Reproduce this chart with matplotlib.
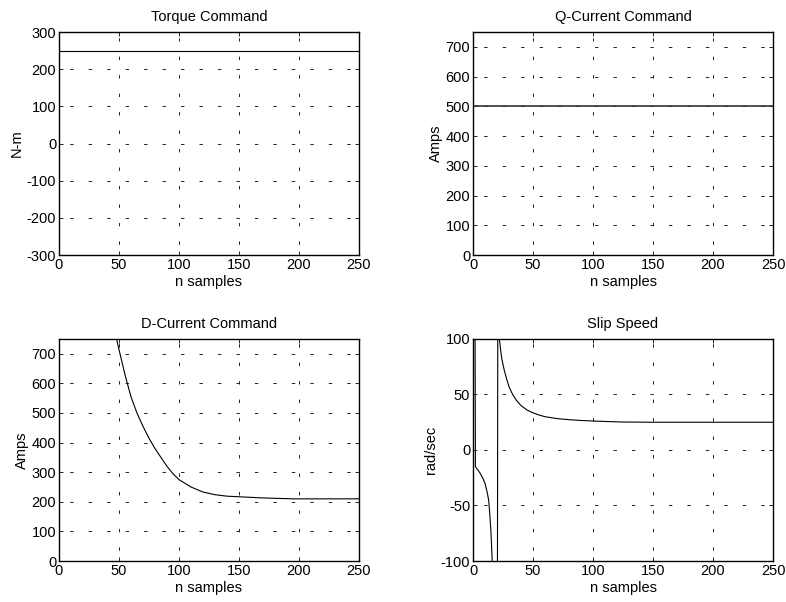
import matplotlib
matplotlib.use('Agg')
import matplotlib.pyplot as plt

# torque / q-current commands are flat over the whole run
n_samples = [0, 250]
torque_cmd = [250, 250]
q_current_cmd = [502, 502]

# d-current command
d_x = [46, 48, 50, 55, 60, 65, 70, 75, 80, 85, 90, 95, 100, 110, 120, 130, 140, 150, 170, 195, 250]
d_current_cmd = [790, 750, 715, 630, 555, 500, 455, 415, 380, 350, 320, 295, 275, 250, 233, 224, 219, 217, 213, 210, 210]

# slip speed, shoots off the axes around samples 1 and 17-21
slip_x = [1, 2, 4, 6, 8, 10, 12, 13, 14, 15, 16, 17, 20, 21, 22, 23, 24, 26, 28, 30, 33, 36, 40,
          45, 50, 55, 60, 70, 80, 90, 100, 110, 125, 150, 200, 250]
slip_speed = [400, -15, -18, -21, -25, -30, -39, -45, -58, -75, -100, -140, -400, 400, 100, 90, 82,
              72, 64, 57, 50, 45, 40, 36, 33.5, 31.5, 30, 28.3, 27.3, 26.6, 26.1, 25.7, 25.2, 25, 25, 25]

plt.rcParams['font.family'] = ['Liberation Sans', 'DejaVu Sans']
plt.rcParams['font.size'] = 10.5
plt.rcParams['axes.unicode_minus'] = False

fig = plt.figure(figsize=(7.86, 6.02), dpi=100)

def setup(ax, title, ylabel, ylim, yticks):
    ax.set_xlim(0, 250)
    ax.set_ylim(*ylim)
    ax.set_xticks([0, 50, 100, 150, 200, 250])
    ax.set_yticks(yticks)
    ax.set_title(title, fontsize=10.5, pad=8)
    ax.set_xlabel('n samples', fontsize=10.5, labelpad=2)
    ax.set_ylabel(ylabel, fontsize=10.5, labelpad=2)
    ax.tick_params(direction='in', length=3, width=0.6, top=True, right=True, labelsize=10.5, pad=2)
    # matlab style ':' grid
    ax.grid(True, color='#222222', linewidth=0.7, linestyle=(8, (3.5, 15.5)))
    for s in ax.spines.values():
        s.set_linewidth(1.0)

ax1 = fig.add_axes([0.075, 0.5764, 0.3817, 0.3704])
ax1.plot(n_samples, torque_cmd, color='black', linewidth=0.8)
setup(ax1, 'Torque Command', 'N-m', (-300, 300), range(-300, 301, 100))

ax2 = fig.add_axes([0.6018, 0.5764, 0.3817, 0.3704])
ax2.plot(n_samples, q_current_cmd, color='#333333', linewidth=1.2)
setup(ax2, 'Q-Current Command', 'Amps', (0, 750), range(0, 701, 100))

ax3 = fig.add_axes([0.075, 0.0681, 0.3817, 0.3688])
ax3.plot(d_x, d_current_cmd, color='black', linewidth=0.8)
setup(ax3, 'D-Current Command', 'Amps', (0, 750), range(0, 701, 100))

ax4 = fig.add_axes([0.6018, 0.0681, 0.3817, 0.3688])
ax4.plot(slip_x, slip_speed, color='black', linewidth=0.8)
setup(ax4, 'Slip Speed', 'rad/sec', (-100, 100), range(-100, 101, 50))

fig.savefig('out.png', dpi=100)
